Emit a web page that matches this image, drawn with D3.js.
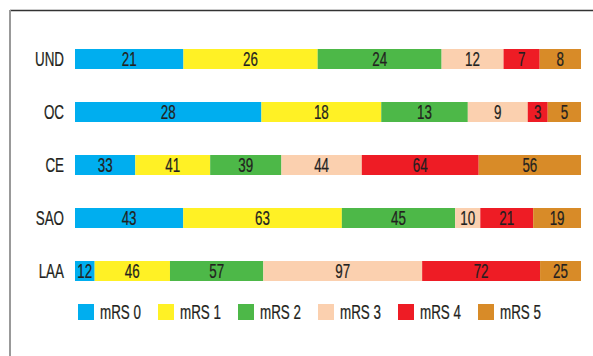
<!DOCTYPE html>
<html>
<head>
<meta charset="utf-8">
<script src="https://cdn.jsdelivr.net/npm/d3@7"></script>
<style>
  html, body { margin: 0; padding: 0; background: #fff; }
  svg { display: block; }
  text { font-family: "Liberation Sans", Arial, sans-serif; fill: #231f20; stroke: #231f20; stroke-width: 0.25; }
</style>
</head>
<body>
<svg id="chart" width="593" height="356"></svg>
<script>
const categories = ["UND", "OC", "CE", "SAO", "LAA"];
const seriesNames = ["mRS 0", "mRS 1", "mRS 2", "mRS 3", "mRS 4", "mRS 5"];
const mrs0 = [21, 28, 33, 43, 12];
const mrs1 = [26, 18, 41, 63, 46];
const mrs2 = [24, 13, 39, 45, 57];
const mrs3 = [12, 9, 44, 10, 97];
const mrs4 = [7, 3, 64, 21, 72];
const mrs5 = [8, 5, 56, 19, 25];
const colors = ["#00aeef", "#fff125", "#4db848", "#fbd0af", "#ee1c25", "#d88b28"];

const seriesValues = [mrs0, mrs1, mrs2, mrs3, mrs4, mrs5];
const FS = 20, SX = 0.67;

const svg = d3.select("#chart");

// frame
svg.append("line").attr("x1", 10).attr("x2", 593).attr("y1", 10.5).attr("y2", 10.5)
  .attr("stroke", "#333").attr("stroke-width", 1.5);
svg.append("line").attr("x1", 10).attr("x2", 10).attr("y1", 10).attr("y2", 356)
  .attr("stroke", "#999").attr("stroke-width", 2);

const x = d3.scaleLinear().domain([0, 1]).range([75, 581]);
const y = d3.scalePoint().domain(categories).range([59, 271]);
const barH = 20;

const rows = categories.map((c, i) => {
  const vals = seriesValues.map(s => s[i]);
  const total = d3.sum(vals);
  let acc = 0;
  return vals.map((v, j) => {
    const seg = { cat: c, j, v, x0: acc / total, x1: (acc + v) / total };
    acc += v;
    return seg;
  });
});

function condensed(sel, fx, fy) {
  sel.attr("transform", (d, i) => `translate(${fx(d, i)},${fy(d, i)}) scale(${SX},1)`)
    .attr("font-size", FS);
}

const g = svg.append("g");
rows.forEach(segs => {
  const row = g.append("g");
  row.selectAll("rect").data(segs).enter().append("rect")
    .attr("x", d => x(d.x0))
    .attr("width", d => x(d.x1) - x(d.x0))
    .attr("y", d => y(d.cat) - barH / 2)
    .attr("height", barH)
    .attr("fill", d => colors[d.j]);
  row.selectAll("text").data(segs).enter().append("text")
    .attr("text-anchor", "middle")
    .call(condensed, d => (x(d.x0) + x(d.x1)) / 2, d => y(d.cat) + 7.2)
    .text(d => d.v);
});

svg.append("g").selectAll("text").data(categories).enter().append("text")
  .attr("text-anchor", "end")
  .call(condensed, () => 64, d => y(d) + 7.2)
  .text(d => d);

const legendX = d3.scalePoint().domain(seriesNames).range([78, 478]);
const leg = svg.append("g").selectAll("g").data(seriesNames).enter().append("g")
  .attr("transform", d => `translate(${legendX(d)},304)`);
leg.append("rect").attr("width", 16).attr("height", 16).attr("fill", (d, i) => colors[i]);
leg.append("text")
  .call(condensed, () => 22, () => 15.2)
  .text(d => d);
</script>
</body>
</html>
